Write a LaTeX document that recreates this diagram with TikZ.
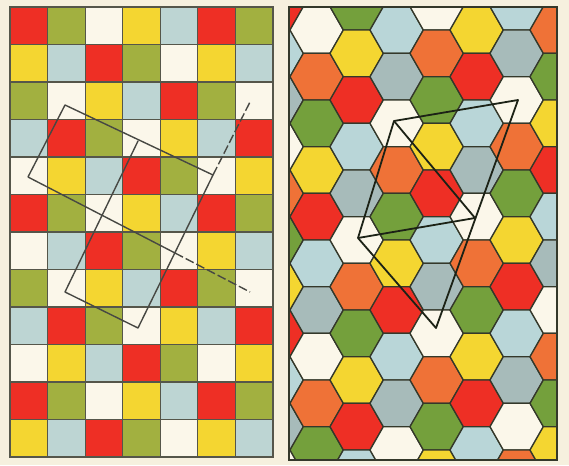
\documentclass[tikz,border=0pt]{standalone}
\usetikzlibrary{calc}
\definecolor{bg}{HTML}{F6F0DE}
\definecolor{gridc}{HTML}{55564A}
\definecolor{hexline}{HTML}{34382A}
\definecolor{ovL}{HTML}{474843}
\definecolor{ovR}{HTML}{1C2216}
\definecolor{sq0}{HTML}{EE2F25}
\definecolor{sq1}{HTML}{A2B040}
\definecolor{sq2}{HTML}{FBF7EA}
\definecolor{sq3}{HTML}{F4D631}
\definecolor{sq4}{HTML}{BDD5D3}
\definecolor{hx0}{HTML}{FBF7EA}
\definecolor{hx1}{HTML}{EF7237}
\definecolor{hx2}{HTML}{74A03C}
\definecolor{hx3}{HTML}{F4D631}
\definecolor{hx4}{HTML}{EE2F25}
\definecolor{hx5}{HTML}{B9D6D8}
\definecolor{hx6}{HTML}{A7BBBA}
\begin{document}
\begin{tikzpicture}[x=1pt,y=-1pt,
  cell/.style={draw=gridc,line width=1.1pt},
  hexc/.style={draw=hexline,line width=1.3pt,line join=round},
  frameline/.style={draw=hexline,line width=1.2pt},
  ovleft/.style={draw=ovL,line width=1.4pt,line join=round},
  ovleftext/.style={draw=ovL,line width=1.4pt,dash pattern=on 9pt off 3pt},
  ovright/.style={draw=ovR,line width=1.8pt,line join=round}]
\fill[bg] (0,0) rectangle (569,465);
\useasboundingbox (0,0) rectangle (569,465);
% left: square tiling
\foreach \r in {0,...,11}{
  \foreach \c in {0,...,6}{
    \pgfmathtruncatemacro\idx{mod(\c-2*\r+50,5)}
    \ifnum\r=6 \ifnum\c=0 \def\idx{2}\fi\fi
    \filldraw[cell, fill=sq\idx] ({10+\c*37.57},{7+\r*37.5}) rectangle ++(37.57,37.5);
  }}
% right: hexagonal tiling
\begin{scope}
  \clip (289,7) rectangle (557,460);
  \foreach \i in {-1,...,6}{
    \foreach \k in {-1,...,20}{
      \pgfmathtruncatemacro\hpar{mod(\i+\k+40,2)}
      \ifnum\hpar=1
        \pgfmathtruncatemacro\hid{mod(6*\i+4*\k+73,7)}
        \filldraw[hexc, fill=hx\hid] ({316.67+40*\i},{6.67+23.333*\k})
          +(-26.67,0) -- +(-13.33,-23.33) -- +(13.33,-23.33) -- +(26.67,0)
          -- +(13.33,23.33) -- +(-13.33,23.33) -- cycle;
      \fi
    }}
\end{scope}
\draw[frameline] (289,7) rectangle (557,460);
% left overlay: two rotated rectangles
\coordinate (A) at (65,105);
\coordinate (B) at (213,175);
\coordinate (C) at (175,253);
\coordinate (D) at (28,177);
\coordinate (E) at (138,141);
\coordinate (G) at (65,292);
\coordinate (F) at (138,328);
\coordinate (Rend) at (250,102);
\coordinate (Bend) at (250,292);
\draw[ovleft] (D) -- (A) -- (B) -- (F) -- (G) -- (E);
\draw[ovleft] (D) -- (C);
\draw[ovleftext] (C) -- (Bend);
\draw[ovleftext] (B) -- (Rend);
% right overlay
\coordinate (TL) at (394,121);
\coordinate (TR) at (518,100);
\coordinate (BR) at (475,218);
\coordinate (BL) at (358,238);
\coordinate (P) at (436,328);
\draw[ovright] (TL) -- (TR) -- (P) -- (BL) -- cycle;
\draw[ovright] (TL) -- (BR) -- (BL);
\end{tikzpicture}
\end{document}
